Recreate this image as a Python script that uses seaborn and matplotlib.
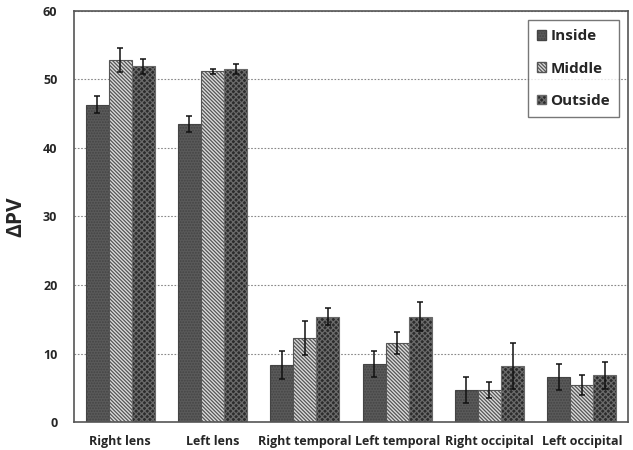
import matplotlib
matplotlib.use("Agg")
import matplotlib.pyplot as plt
import seaborn as sns
import pandas as pd
import numpy as np

categories = ["Right lens", "Left lens", "Right temporal", "Left temporal",
              "Right occipital", "Left occipital"]
series = ["Inside", "Middle", "Outside"]
inside = [46.3, 43.5, 8.3, 8.5, 4.7, 6.6]
middle = [52.8, 51.2, 12.3, 11.5, 4.7, 5.4]
outside = [51.9, 51.5, 15.4, 15.4, 8.2, 6.8]
inside_err = [1.2, 1.2, 2.0, 1.9, 1.9, 1.9]
middle_err = [1.8, 0.35, 2.5, 1.6, 1.2, 1.4]
outside_err = [1.1, 0.7, 1.2, 2.1, 3.3, 1.9]

values = {"Inside": inside, "Middle": middle, "Outside": outside}
errors = {"Inside": inside_err, "Middle": middle_err, "Outside": outside_err}

rows = []
for s in series:
    for c, v, e in zip(categories, values[s], errors[s]):
        rows.append({"Region": c, "Position": s, "PV": v, "err": e})
df = pd.DataFrame(rows)

sns.set_theme(style="white")
plt.rcParams["font.family"] = ["Open Sans", "DejaVu Sans"]
plt.rcParams["hatch.linewidth"] = 0.9

fig = plt.figure(figsize=(6.33, 4.5), dpi=100)
ax = fig.add_axes([0.117, 0.062, 0.875, 0.914])

styles = {
    "Inside": dict(face="#5a5a5a", edge="#444444", hatch="......"),
    "Middle": dict(face="#dcdcdc", edge="#555555", hatch="\\" * 9),
    "Outside": dict(face="#2c2c2c", edge="#6a6a6a", hatch="xxxxxx"),
}
palette = {s: styles[s]["face"] for s in series}

sns.barplot(data=df, x="Region", y="PV", hue="Position", order=categories,
            hue_order=series, palette=palette, width=0.75, gap=0,
            errorbar=None, saturation=1, ax=ax, zorder=2)

for cont, s in zip(ax.containers, series):
    errs = errors[s]
    xs, ys = [], []
    for bar in cont:
        bar.set_hatch(styles[s]["hatch"])
        bar.set_edgecolor(styles[s]["edge"])
        bar.set_linewidth(0.8)
        xs.append(bar.get_x() + bar.get_width() / 2)
        ys.append(bar.get_height())
    ax.errorbar(xs, ys, yerr=errs, fmt="none", ecolor="#111111",
                elinewidth=1.1, capsize=2.2, capthick=1.1, zorder=3)

ax.set_ylim(0, 60)
ax.set_xlim(-0.5, 5.5)
ax.set_yticks([0, 10, 20, 30, 40, 50, 60])
ax.yaxis.grid(True, linestyle=(0, (1.5, 1.5)), color="#888888", linewidth=0.8, zorder=0)
ax.set_axisbelow(True)
ax.tick_params(axis="x", length=0, pad=9)
ax.tick_params(axis="y", length=0, pad=12)
for lab in ax.get_xticklabels() + ax.get_yticklabels():
    lab.set_fontweight("bold")
    lab.set_fontsize(9)
ax.set_xlabel("")
ax.set_ylabel("ΔPV", fontsize=15, fontweight="bold", labelpad=12)
for sp in ax.spines.values():
    sp.set_color("#555555")
    sp.set_linewidth(1.2)

handles, labels = ax.get_legend_handles_labels()
leg = ax.legend(handles, labels, loc="upper right", bbox_to_anchor=(0.99, 0.985),
                frameon=True, fancybox=False, edgecolor="#555555",
                prop={"weight": "bold", "size": 11}, handlelength=0.6,
                handleheight=0.6, handletextpad=0.3, labelspacing=1.2,
                borderpad=0.6, borderaxespad=0.2)
leg.get_frame().set_linewidth(1.0)
for h, s in zip(leg.legend_handles, series):
    h.set_hatch(styles[s]["hatch"])
    h.set_edgecolor(styles[s]["edge"])

fig.savefig("out.png", dpi=100)
